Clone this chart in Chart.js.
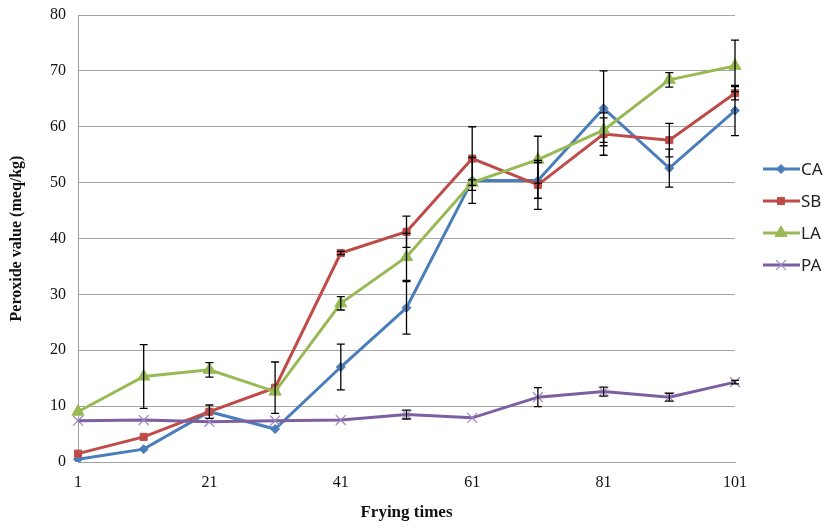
<!DOCTYPE html>
<html>
<head>
<meta charset="utf-8">
<script src="https://cdn.jsdelivr.net/npm/chart.js@4"></script>
<style>
  html, body { margin: 0; padding: 0; background: #fff; }
  #wrap { width: 827px; height: 529px; position: relative; }
</style>
</head>
<body>
<div id="wrap"><canvas id="pvChart"></canvas></div>
<script>
// frying times (x) and peroxide values
const fryingTimes = [1, 11, 21, 31, 41, 51, 61, 71, 81, 91, 101];
const xTickLabels = [1, 21, 41, 61, 81, 101];
const yTicks = [0, 10, 20, 30, 40, 50, 60, 70, 80];

const caValues = [0.5, 2.3, 9.0, 5.9, 17.0, 27.6, 50.4, 50.4, 63.3, 52.6, 62.9];
const sbValues = [1.5, 4.5, 9.0, 13.3, 37.4, 41.2, 54.3, 49.6, 58.7, 57.6, 66.0];
const laValues = [9.0, 15.3, 16.5, 12.6, 28.4, 36.7, 50.0, 54.1, 59.4, 68.4, 70.9];
const paValues = [7.4, 7.5, 7.2, 7.4, 7.5, 8.5, 7.9, 11.6, 12.6, 11.6, 14.3];

// standard deviation (error bars)
const caErr = [0, 0, 0, 0, 4.1, 4.7, 4.1, 3.2, 6.7, 3.4, 4.5];
const sbErr = [0, 0, 1.2, 4.6, 0.3, 2.8, 5.7, 4.4, 3.8, 3.0, 1.2];
const laErr = [0, 5.7, 1.3, 0, 1.2, 4.2, 0.5, 4.2, 2.2, 1.3, 4.6];
const paErr = [0, 0, 0, 0, 0, 0.8, 0, 1.7, 0.8, 0.7, 0.3];

const seriesNames = ["CA", "SB", "LA", "PA"];
const seriesColors = ["#4a7ebb", "#be4b48", "#98b954", "#7d5fa0"];

const serif = "'Liberation Serif', 'Times New Roman', serif";

// ---------- plugins ----------
const errorBars = {
  id: "errorBars",
  afterDatasetsDraw(chart) {
    const ctx = chart.ctx;
    const y = chart.scales.y;
    ctx.save();
    ctx.strokeStyle = "#000";
    ctx.lineWidth = 1.3;
    chart.data.datasets.forEach((ds, i) => {
      const meta = chart.getDatasetMeta(i);
      ds.errors.forEach((e, j) => {
        if (!e) return;
        const px = meta.data[j].x;
        const v = ds.data[j];
        const top = y.getPixelForValue(v + e);
        const bot = y.getPixelForValue(v - e);
        ctx.beginPath();
        ctx.moveTo(px, top); ctx.lineTo(px, bot);
        ctx.moveTo(px - 4, top); ctx.lineTo(px + 4, top);
        ctx.moveTo(px - 4, bot); ctx.lineTo(px + 4, bot);
        ctx.stroke();
      });
    });
    ctx.restore();
  }
};

// Excel-style legend on the right: line segment + marker + name
const sideLegend = {
  id: "sideLegend",
  afterDraw(chart) {
    const ctx = chart.ctx;
    ctx.save();
    ctx.font = "17px 'Noto Sans', 'Open Sans', sans-serif";
    ctx.textBaseline = "middle";
    chart.data.datasets.forEach((ds, i) => {
      const yy = 169 + i * 32;
      ctx.strokeStyle = ds.borderColor;
      ctx.lineWidth = 3;
      ctx.beginPath();
      ctx.moveTo(763, yy); ctx.lineTo(800, yy);
      ctx.stroke();
      ctx.fillStyle = ds.pointBackgroundColor;
      ctx.strokeStyle = ds.pointBorderColor;
      ctx.lineWidth = ds.pointBorderWidth;
      Chart.helpers.drawPoint(ctx, {
        pointStyle: ds.pointStyle, radius: ds.pointRadius, rotation: 0, borderWidth: ds.pointBorderWidth
      }, 781, yy);
      ctx.fillStyle = "#222";
      ctx.fillText(ds.label, 801, yy + 1);
    });
    ctx.restore();
  }
};

function makeDataset(i, values, errs, style, radius, bw) {
  return {
    label: seriesNames[i],
    data: values,
    errors: errs,
    borderColor: seriesColors[i],
    backgroundColor: seriesColors[i],
    pointBackgroundColor: seriesColors[i],
    pointBorderColor: style === "crossRot" ? "#9a86c0" : seriesColors[i],
    pointStyle: style,
    pointRadius: radius,
    pointBorderWidth: bw,
    borderWidth: 3,
    tension: 0,
    order: 3 - i
  };
}

const datasets = [
  makeDataset(0, caValues, caErr, "rectRot", 4.5, 1),
  makeDataset(1, sbValues, sbErr, "rect", 5, 1),
  makeDataset(2, laValues, laErr, "triangle", 7, 1),
  makeDataset(3, paValues, paErr, "crossRot", 7, 1.2)
];

new Chart(document.getElementById("pvChart"), {
  type: "line",
  data: { labels: fryingTimes, datasets },
  plugins: [errorBars, sideLegend],
  options: {
    responsive: true,
    maintainAspectRatio: false,
    animation: false,
    layout: { padding: { left: 0, right: 92, top: 15, bottom: 0 } },
    plugins: { legend: { display: false }, tooltip: { enabled: false } },
    scales: {
      x: {
        type: "category",
        offset: false,
        afterFit(s) { s.height = 67; s.paddingLeft = 0; s.paddingRight = 0; },
        grid: { display: false, drawTicks: false },
        border: { display: true, color: "#a0a0a0", width: 1 },
        ticks: {
          autoSkip: false,
          maxRotation: 0,
          padding: 11,
          color: "#111",
          font: { family: serif, size: 16 },
          callback(v, i) { return xTickLabels.includes(fryingTimes[i]) ? String(fryingTimes[i]) : ""; }
        },
        title: {
          display: true,
          text: "Frying times",
          color: "#111",
          font: { family: serif, size: 17, weight: "bold" },
          padding: { top: 4, bottom: 6 }
        }
      },
      y: {
        min: 0,
        max: 80,
        afterFit(s) { s.width = 78; s.paddingTop = 0; s.paddingBottom = 0; },
        afterBuildTicks(s) { s.ticks = yTicks.map(v => ({ value: v })); },
        grid: { color: "#a6a6a6", lineWidth: 1, drawTicks: false },
        border: { display: true, color: "#a0a0a0", width: 1 },
        ticks: {
          padding: 12,
          color: "#111",
          font: { family: serif, size: 16 }
        },
        title: {
          display: true,
          text: "Peroxide value (meq/kg)",
          color: "#111",
          font: { family: serif, size: 16, weight: "bold" },
          padding: { top: 7, bottom: 4 }
        }
      }
    }
  }
});
</script>
</body>
</html>
